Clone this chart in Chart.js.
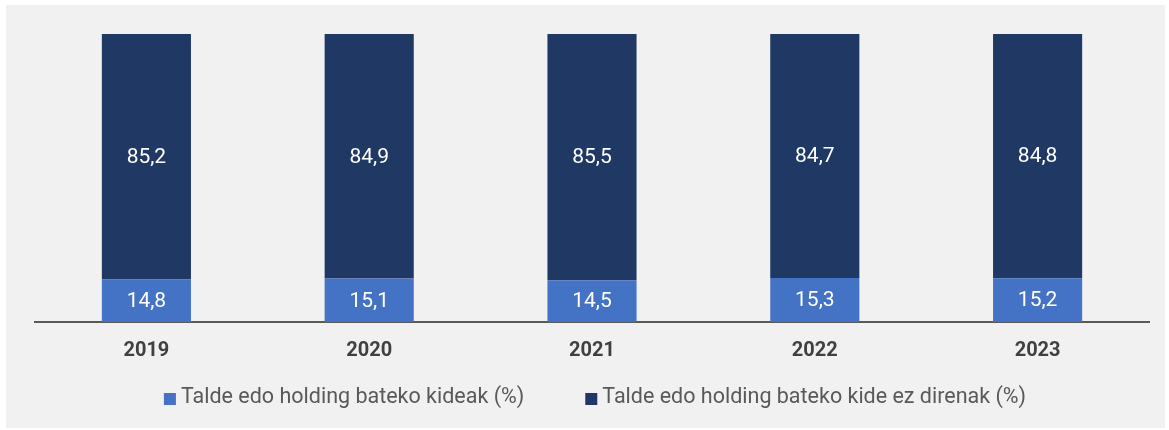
<!DOCTYPE html>
<html lang="eu">
<head>
  <meta charset="UTF-8" />
  <title>Talde edo holding bateko kideak</title>
  <script src="https://cdn.jsdelivr.net/npm/chart.js"></script>
  <style>
    html, body { margin: 0; padding: 0; background: #fff; }
    #wrap { position: absolute; left: 6px; top: 5px; width: 1159px; height: 423px; background: #f1f1f1; }
  </style>
</head>
<body>
  <div id="wrap"><canvas id="chart"></canvas></div>

  <script>
    const years = ['2019', '2020', '2021', '2022', '2023'];
    const kideak = [14.8, 15.1, 14.5, 15.3, 15.2];
    const kideEz = [85.2, 84.9, 85.5, 84.7, 84.8];
    const seriesNames = ['Talde edo holding bateko kideak (%)', 'Talde edo holding bateko kide ez direnak (%)'];

    const fmt = v => v.toFixed(1).replace('.', ',');

    // white value labels centred in every segment
    const valueLabels = {
      id: 'valueLabels',
      afterDatasetsDraw(chart) {
        const ctx = chart.ctx;
        ctx.save();
        ctx.fillStyle = '#ffffff';
        ctx.font = '21px Roboto';
        ctx.textAlign = 'center';
        ctx.textBaseline = 'middle';
        chart.data.datasets.forEach((ds, i) => {
          chart.getDatasetMeta(i).data.forEach((bar, j) => {
            const p = bar.getProps(['x', 'y', 'base'], true);
            ctx.fillText(fmt(ds.data[j]), p.x, (p.y + p.base) / 2 + 1);
          });
        });
        ctx.restore();
      }
    };

    // legend drawn by hand so the gap between the two items matches
    const bottomLegend = {
      id: 'bottomLegend',
      afterDraw(chart) {
        const ctx = chart.ctx;
        const box = 12, gap = 5, between = 61, y = 393;
        ctx.save();
        ctx.font = '21.5px Roboto';
        ctx.textBaseline = 'middle';
        const items = chart.data.datasets.map(ds => ({ ds, w: ctx.measureText(ds.label).width }));
        const total = items.reduce((s, it) => s + box + gap + it.w, 0) + between * (items.length - 1);
        let x = chart.width / 2 + 9.5 - total / 2;
        items.forEach(it => {
          ctx.fillStyle = it.ds.backgroundColor;
          ctx.fillRect(x, y - box / 2 + 1, box, box);
          ctx.fillStyle = '#595959';
          ctx.fillText(it.ds.label, x + box + gap, y);
          x += box + gap + it.w + between;
        });
        ctx.restore();
      }
    };

    new Chart(document.getElementById('chart'), {
      type: 'bar',
      data: {
        labels: years,
        datasets: [
          { label: seriesNames[0], data: kideak, backgroundColor: '#4472c4', barPercentage: 0.8, categoryPercentage: 0.5 },
          { label: seriesNames[1], data: kideEz, backgroundColor: '#203864', barPercentage: 0.8, categoryPercentage: 0.5 }
        ]
      },
      options: {
        responsive: true,
        maintainAspectRatio: false,
        animation: false,
        layout: { padding: { left: 29, right: 16, top: 29, bottom: 56 } },
        plugins: {
          tooltip: { enabled: false },
          legend: { display: false }
        },
        scales: {
          x: {
            stacked: true,
            grid: { display: false },
            border: { display: true, color: '#595959', width: 2 },
            ticks: { color: '#404040', font: { family: 'Roboto', size: 20, weight: 'bold' }, padding: 9 }
          },
          y: {
            stacked: true,
            display: false,
            min: 0,
            max: 100
          }
        }
      },
      plugins: [valueLabels, bottomLegend]
    });
  </script>
</body>
</html>
